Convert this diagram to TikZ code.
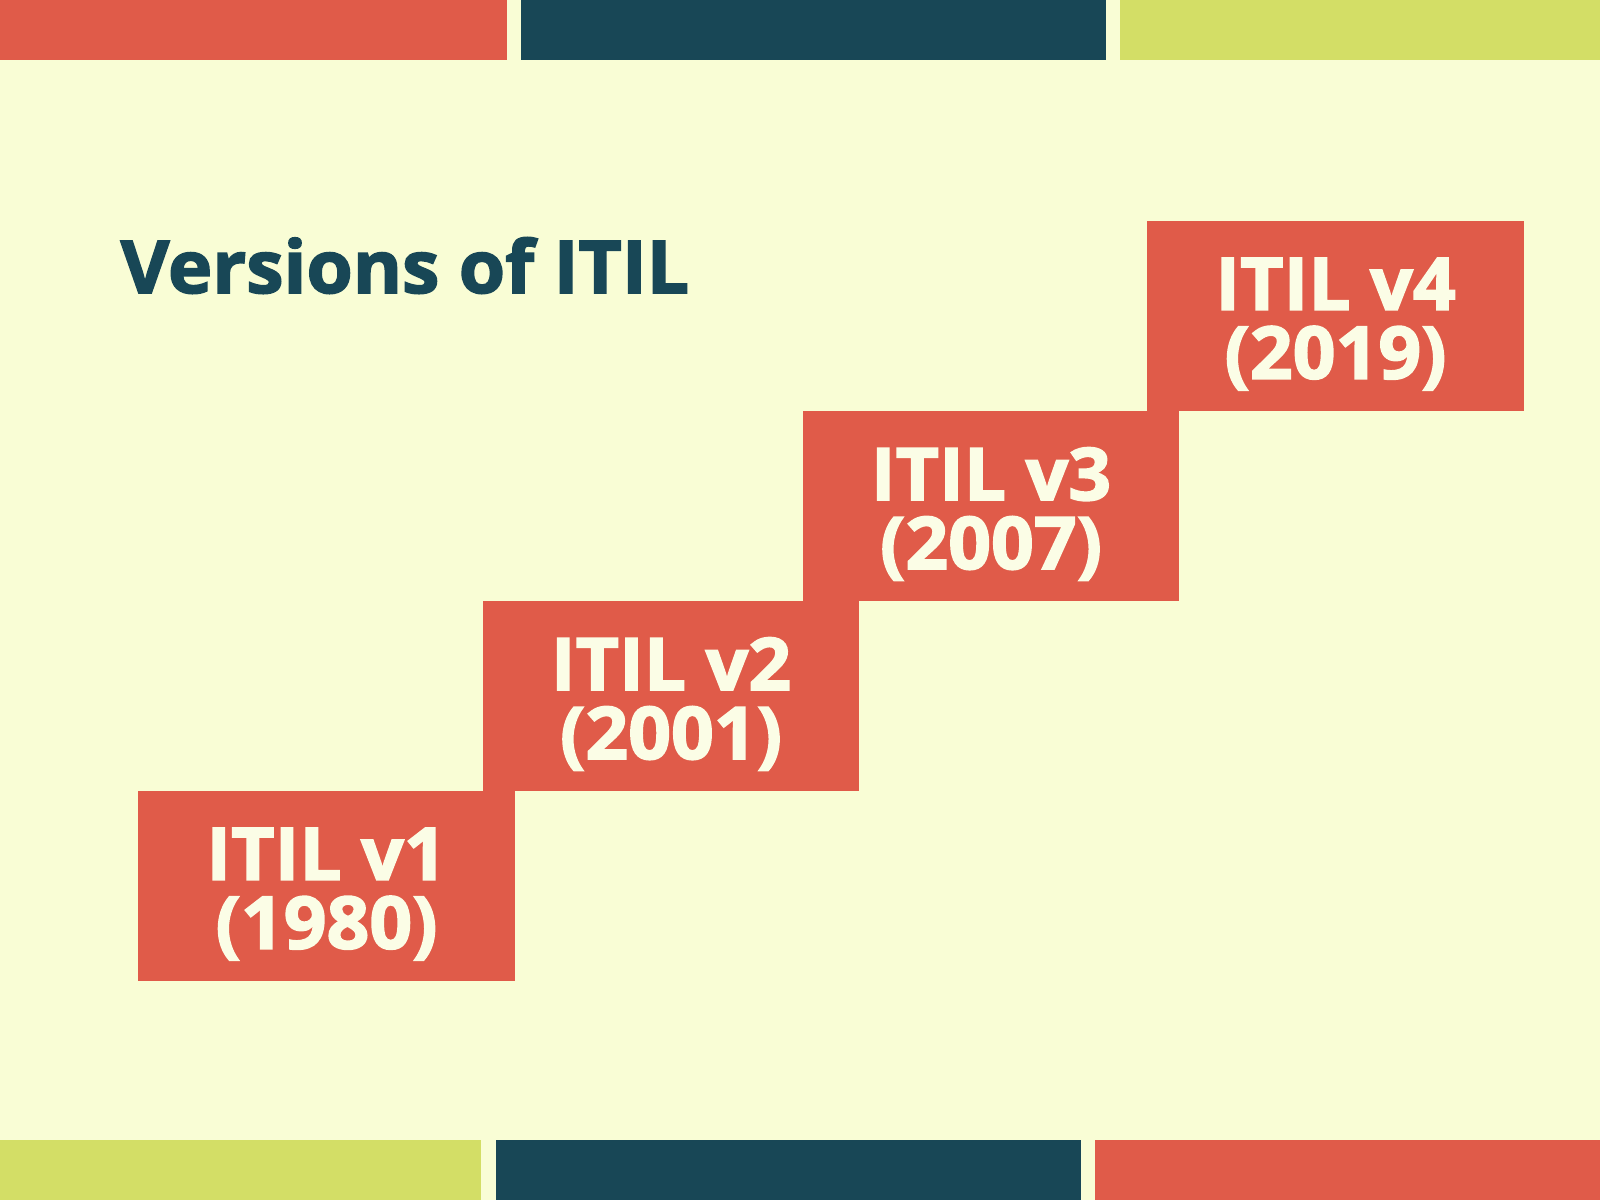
\documentclass[tikz,border=0pt]{standalone}
\usepackage{fontspec}
\setmainfont{Open Sans}[BoldFeatures={FakeBold=2.2, FakeStretch=1.03}]
\definecolor{bgcream}{HTML}{F9FDD5}
\definecolor{itilred}{HTML}{E05B49}
\definecolor{itilteal}{HTML}{184756}
\definecolor{itilgreen}{HTML}{D3DE66}
\definecolor{textcream}{HTML}{FBFDE6}
\begin{document}
\begin{tikzpicture}[x=0.01cm, y=-0.01cm,
    verbox/.style={rectangle, fill=itilred, minimum width=3.76cm, minimum height=1.90cm, inner sep=0pt},
    vertext/.style={inner sep=0pt, align=center, text=textcream, font=\fontsize{20.7}{19.6}\selectfont\bfseries}]
    % Background
    \fill[bgcream] (0, 0) rectangle (1600, 1200);
    \useasboundingbox (0, 0) rectangle (1600, 1200);

    % Draw top bars
    \fill[itilred] (0, 0) rectangle (507, 60);
    \fill[itilteal] (521, 0) rectangle (1106, 60);
    \fill[itilgreen] (1120, 0) rectangle (1600, 60);

    % Draw bottom bars
    \fill[itilgreen] (0, 1140) rectangle (481, 1200);
    \fill[itilteal] (496, 1140) rectangle (1081, 1200);
    \fill[itilred] (1095, 1140) rectangle (1600, 1200);

    % Draw title
    \node[anchor=base west, inner sep=0pt, text=itilteal, font=\fontsize{20.7}{24}\selectfont\bfseries] (title) at (120, 293) {Versions of ITIL};

    % Draw version steps
    \node[verbox] (v1) at (326.5, 886) {};
    \node[verbox] (v2) at (671, 696) {};
    \node[verbox] (v3) at (991, 506) {};
    \node[verbox] (v4) at (1335.5, 316) {};

    % Draw step labels
    \node[vertext] (v1text) at ([yshift=-0.08cm]v1.center) {ITIL v1\\(1980)};
    \node[vertext] (v2text) at ([yshift=-0.08cm]v2.center) {ITIL v2\\(2001)};
    \node[vertext] (v3text) at ([yshift=-0.08cm]v3.center) {ITIL v3\\(2007)};
    \node[vertext] (v4text) at ([yshift=-0.08cm]v4.center) {ITIL v4\\(2019)};
\end{tikzpicture}
\end{document}
